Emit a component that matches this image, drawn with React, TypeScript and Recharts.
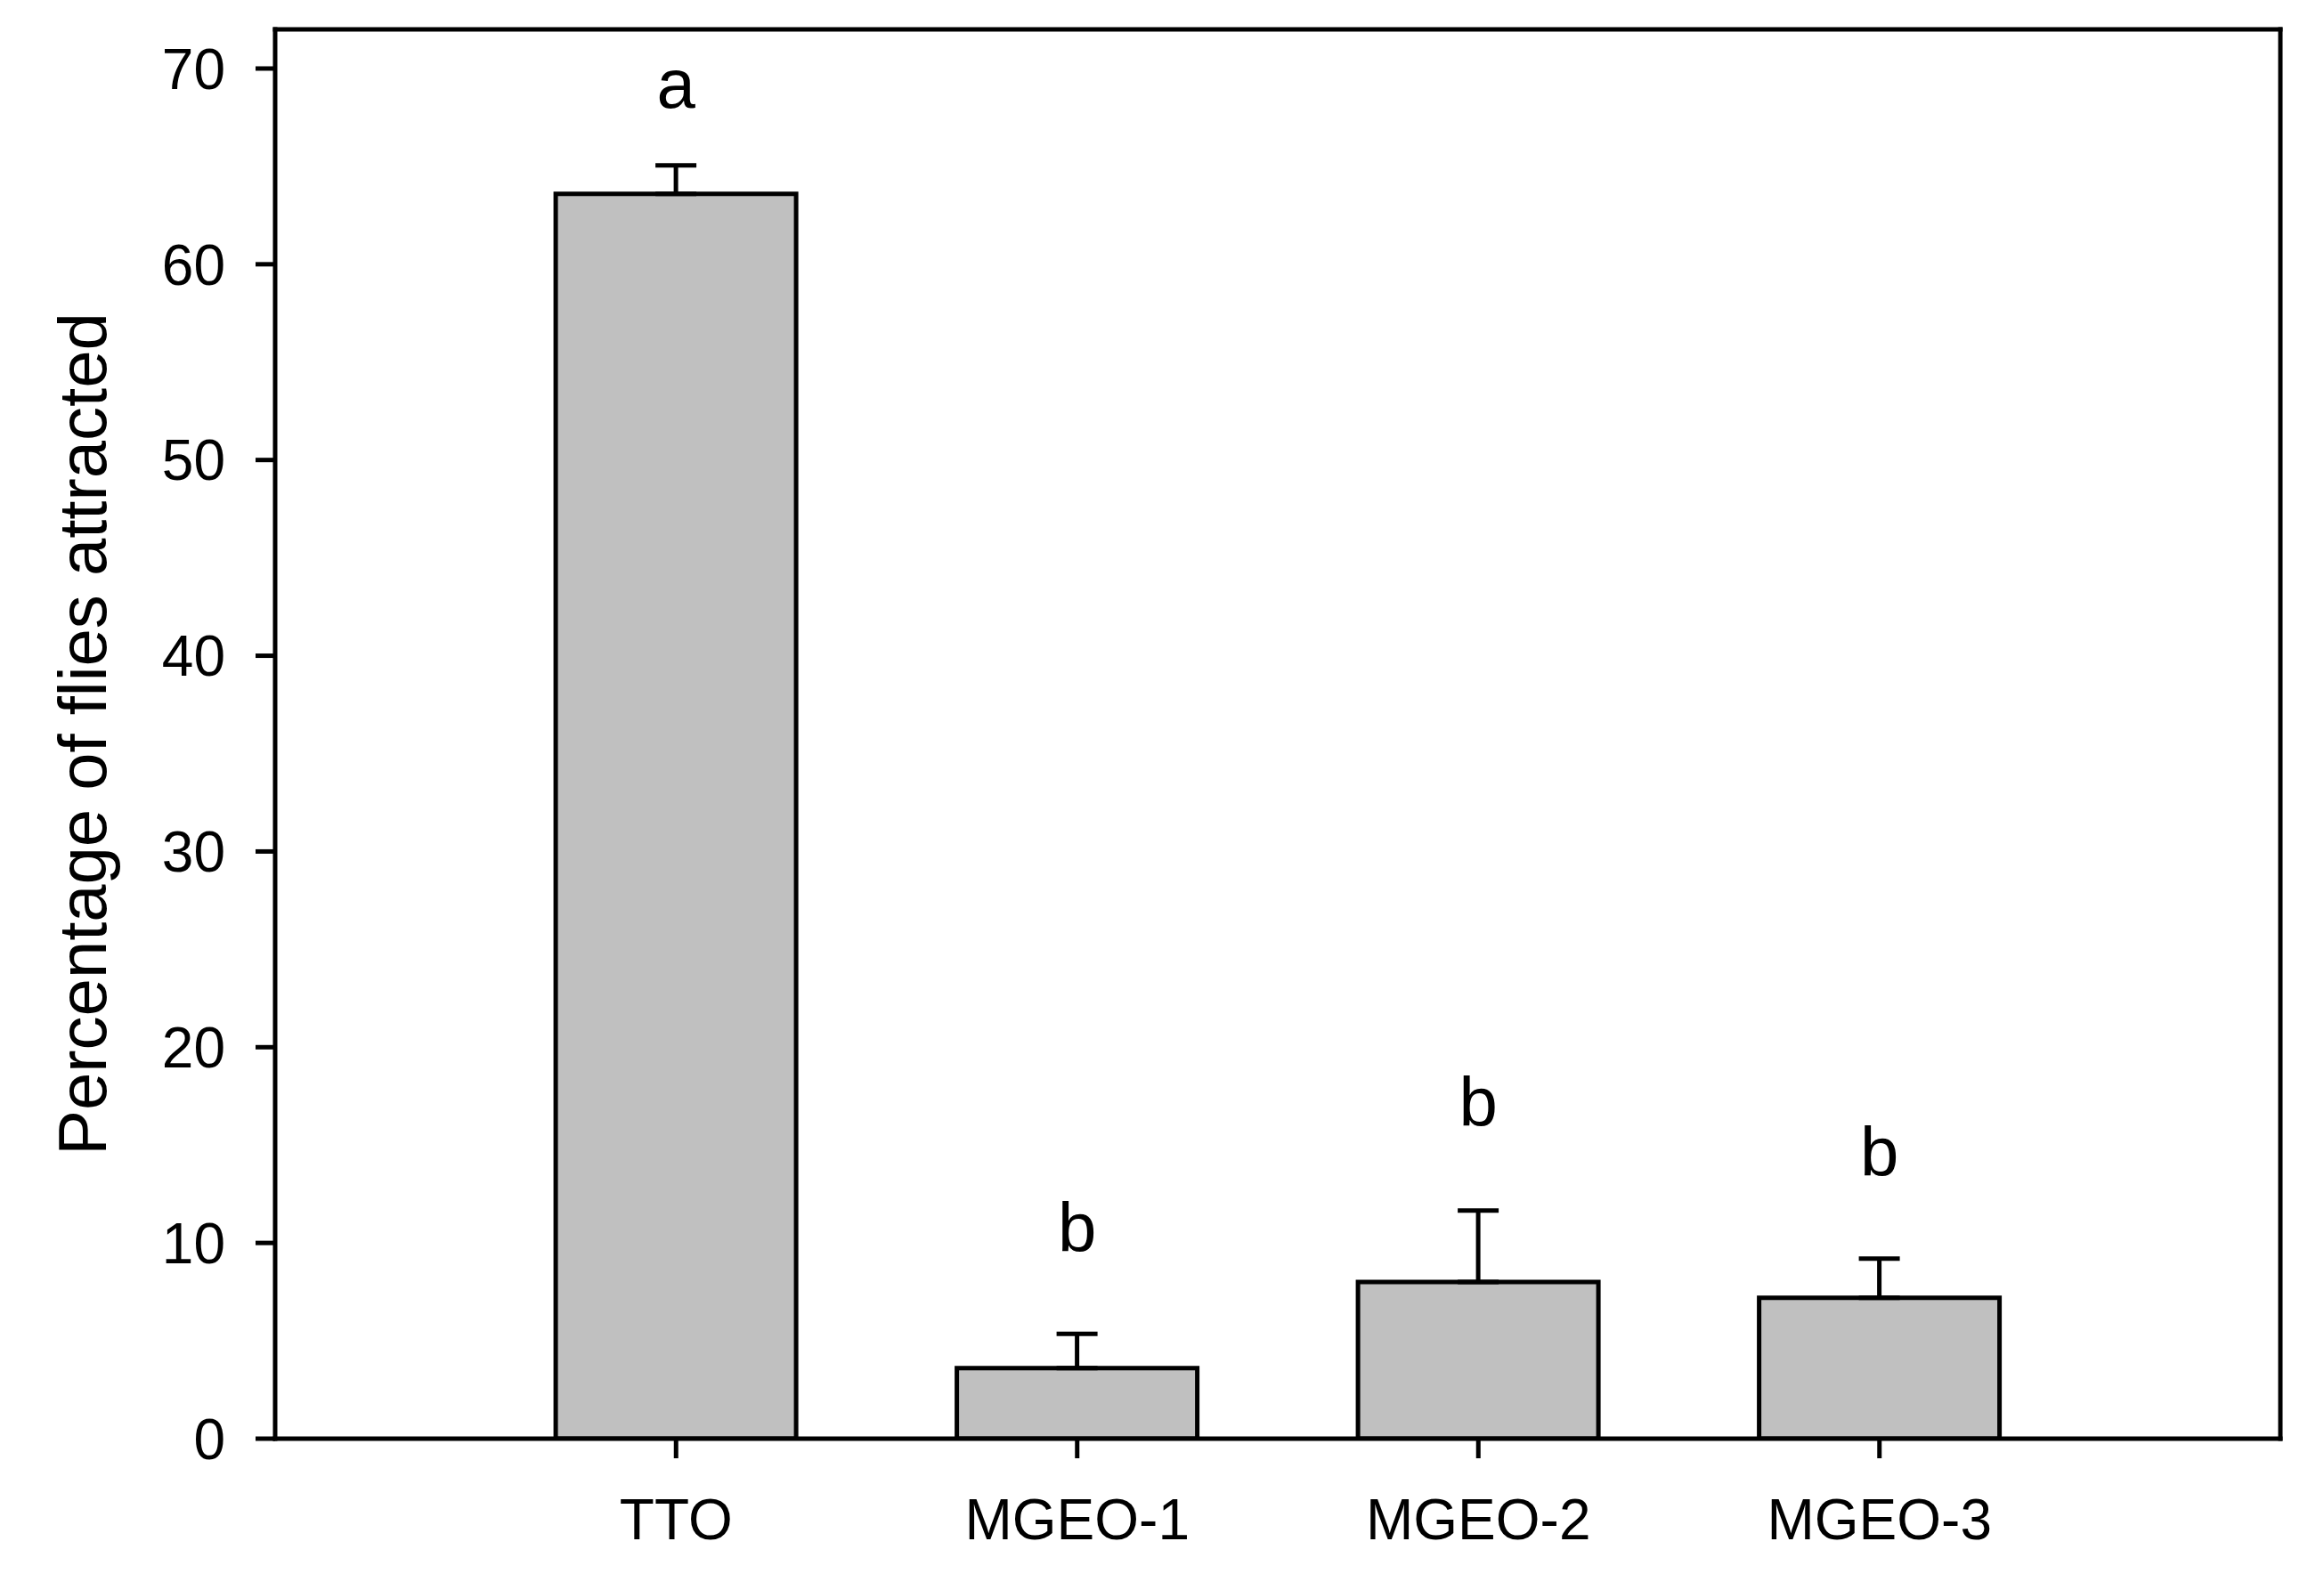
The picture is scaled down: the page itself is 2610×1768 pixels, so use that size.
import React from 'react';
import { ComposedChart, Bar, XAxis, YAxis, ErrorBar, Scatter } from 'recharts';

const categories = ['TTO', 'MGEO-1', 'MGEO-2', 'MGEO-3'];
const meanValues = [63.6, 3.6, 8.0, 7.2];
const upperErrors = [1.45, 1.75, 3.65, 2.0];
const letters = ['a', 'b', 'b', 'b'];
const letterHeights = [68.0, 9.55, 15.95, 13.4];
const yTicks = [0, 10, 20, 30, 40, 50, 60, 70];
const yDomain: [number, number] = [0, 72];
const yTitle = 'Percentage of flies attracted';

const data = categories.map((c, i) => ({
  cat: c,
  value: meanValues[i],
  err: [0, upperErrors[i]],
  letterY: letterHeights[i],
  letter: letters[i],
}));

const FONT = '"Liberation Sans", Arial, Helvetica, sans-serif';

const renderYTitle = (props: any) => {
  const vb = props.viewBox || { x: 0, y: 33, width: 309, height: 1583 };
  const cx = 92;
  const cy = vb.y + vb.height / 2;
  return (
    <text
      x={cx}
      y={cy}
      transform={`rotate(-90, ${cx}, ${cy})`}
      textAnchor="middle"
      dominantBaseline="central"
      fontFamily={FONT}
      fontSize={76}
      fill="#000"
    >
      {yTitle}
    </text>
  );
};

const LetterShape = (props: any) => {
  const { cx, cy, payload } = props;
  if (cx == null || cy == null) return null;
  return (
    <text x={cx} y={cy} textAnchor="middle" fontFamily={FONT} fontSize={78} fill="#000">
      {payload.letter}
    </text>
  );
};

const axisStroke = { stroke: '#000', strokeWidth: 5, strokeLinecap: 'square' as const };
const tickLineStyle = { stroke: '#000', strokeWidth: 5 };

export default function App() {
  return (
    <div style={{ position: 'absolute', left: 0, top: 0, width: 2610, height: 1768, background: '#fff' }}>
      <ComposedChart
        width={2610}
        height={1768}
        data={data}
        margin={{ top: 32, right: 48, bottom: 0, left: 0 }}
        barCategoryGap="20%"
      >
        <XAxis
          dataKey="cat"
          height={152}
          padding={{ left: 225, right: 225 }}
          axisLine={axisStroke}
          tickLine={tickLineStyle}
          tickSize={22}
          tickMargin={46}
          tick={{ fontSize: 64, fontFamily: FONT, fill: '#000' }}
          interval={0}
        />
        <XAxis
          xAxisId="top"
          dataKey="cat"
          orientation="top"
          height={1}
          padding={{ left: 225, right: 225 }}
          axisLine={axisStroke}
          tick={false}
          tickLine={false}
        />
        <YAxis
          width={309}
          domain={yDomain}
          ticks={yTicks}
          allowDataOverflow
          axisLine={axisStroke}
          tickLine={tickLineStyle}
          tickSize={22}
          tickMargin={34}
          tick={{ fontSize: 64, fontFamily: FONT, fill: '#000' }}
          label={renderYTitle}
        />
        <YAxis
          yAxisId="right"
          orientation="right"
          width={1}
          domain={yDomain}
          allowDataOverflow
          axisLine={axisStroke}
          tick={false}
          tickLine={false}
        />
        <Bar dataKey="value" fill="#c0c0c0" stroke="#000" strokeWidth={5} isAnimationActive={false}>
          <ErrorBar dataKey="err" width={23} stroke="#000" strokeWidth={5} direction="y" isAnimationActive={false} />
        </Bar>
        <Scatter
          dataKey="letterY"
          xAxisId="top"
          yAxisId="right"
          shape={<LetterShape />}
          isAnimationActive={false}
        />
      </ComposedChart>
    </div>
  );
}
